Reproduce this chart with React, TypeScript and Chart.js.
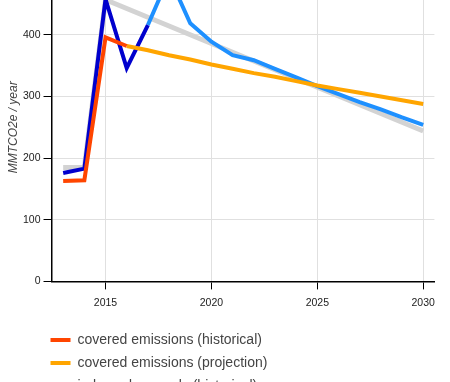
import React, { useEffect, useRef } from 'react';
import { Chart, registerables } from 'chart.js';

Chart.register(...registerables);

const coveredHistYears = [2013, 2014, 2015, 2016];
const coveredHist = [163, 164, 396, 382];
const coveredProjYears = [2016, 2017, 2018, 2019, 2020, 2021, 2022, 2023, 2024, 2025, 2026, 2027, 2028, 2029, 2030];
const coveredProj = [382, 375, 367, 360, 352, 345, 338, 332, 325, 318, 312, 306, 300, 294, 288];
const inbHistYears = [2013, 2014, 2015, 2016, 2017];
const inbHist = [176, 183, 458, 346, 416];
const inbProjYears = [2017, 2018, 2019, 2020, 2021, 2022, 2023, 2024, 2025, 2026, 2027, 2028, 2029, 2030];
const inbProj = [416, 495, 419, 389, 367, 359, 345, 331, 317, 304, 291, 279, 266, 254];
const trendYears = [2013, 2014, 2015, 2030];
const trend = [185, 185, 457, 244];

const seriesLabels = [
  'covered emissions (historical)',
  'covered emissions (projection)',
  'in-boundary goals (historical)',
  'in-boundary goals (projection)',
  'linear trend',
];
const xTickValues = [2015, 2020, 2025, 2030];
const yAxisTitle = 'MMTCO2e / year';

const pts = (xs: number[], ys: number[]) => xs.map((x, i) => ({ x, y: ys[i] }));

const legendAlign = {
  id: 'legendAlign',
  afterLayout(chart: any) {
    const lg = chart.legend;
    if (lg && chart.chartArea) {
      lg.left = chart.chartArea.left - lg.options.labels.padding - 1;
    }
  },
};

export default function App() {
  const ref = useRef<HTMLCanvasElement | null>(null);
  useEffect(() => {
    document.body.style.margin = '0';
    if (!ref.current) return;
    const mk = (label: string, xs: number[], ys: number[], color: string, w: number) => ({
      label,
      data: pts(xs, ys),
      borderColor: color,
      backgroundColor: color,
      borderWidth: w,
      pointRadius: 0,
      tension: 0,
      fill: false,
    });
    const chart = new Chart(ref.current, {
      type: 'line',
      data: {
        datasets: [
          mk(seriesLabels[0], coveredHistYears, coveredHist, '#FF4500', 4),
          mk(seriesLabels[1], coveredProjYears, coveredProj, '#FFA500', 4),
          mk(seriesLabels[2], inbHistYears, inbHist, '#0000CD', 4),
          mk(seriesLabels[3], inbProjYears, inbProj, '#1E90FF', 4),
          mk(seriesLabels[4], trendYears, trend, '#D3D3D3', 5),
        ],
      },
      options: {
        animation: false,
        responsive: true,
        maintainAspectRatio: false,
        layout: { padding: { right: 4, top: 0, left: 0, bottom: 0 } },
        scales: {
          x: {
            type: 'linear',
            min: 2012.45,
            max: 2030.53,
            afterBuildTicks: (scale: any) => {
              scale.ticks = xTickValues.map((v) => ({ value: v }));
            },
            afterFit: (scale: any) => {
              scale.height += 8;
            },
            ticks: {
              callback: (v: any) => String(v),
              color: '#222',
              font: { size: 10.5 },
              padding: 7,
              autoSkip: false,
              maxRotation: 0,
            },
            grid: { color: '#e0e0e0', tickColor: '#000', tickLength: 8 },
            border: { color: '#000', width: 1.5 },
          },
          y: {
            min: 0,
            max: 500,
            ticks: { stepSize: 100, color: '#222', font: { size: 10.5 } },
            grid: { color: '#e0e0e0', tickColor: '#000', tickLength: 8 },
            border: { color: '#000', width: 1.5 },
            title: {
              display: true,
              text: yAxisTitle,
              color: '#444',
              font: { size: 12, style: 'italic', lineHeight: 1 },
              padding: 0,
            },
          },
        },
        plugins: {
          legend: {
            position: 'bottom',
            align: 'start',
            labels: {
              boxWidth: 20,
              boxHeight: 4,
              padding: 9,
              color: '#444',
              font: { size: 14 },
              generateLabels: (c: any) =>
                Chart.defaults.plugins.legend.labels.generateLabels(c).map((l: any) => ({
                  ...l,
                  fillStyle: l.strokeStyle,
                  lineWidth: 0,
                })),
            },
          },
          tooltip: { enabled: false },
        },
      },
      plugins: [legendAlign],
    } as any);
    return () => chart.destroy();
  }, []);
  return (
    <div style={{ width: 450, height: 382, overflow: 'hidden' }}>
      <div style={{ position: 'relative', marginLeft: 8, marginTop: -36, width: 434, height: 462 }}>
        <canvas ref={ref} />
      </div>
    </div>
  );
}
